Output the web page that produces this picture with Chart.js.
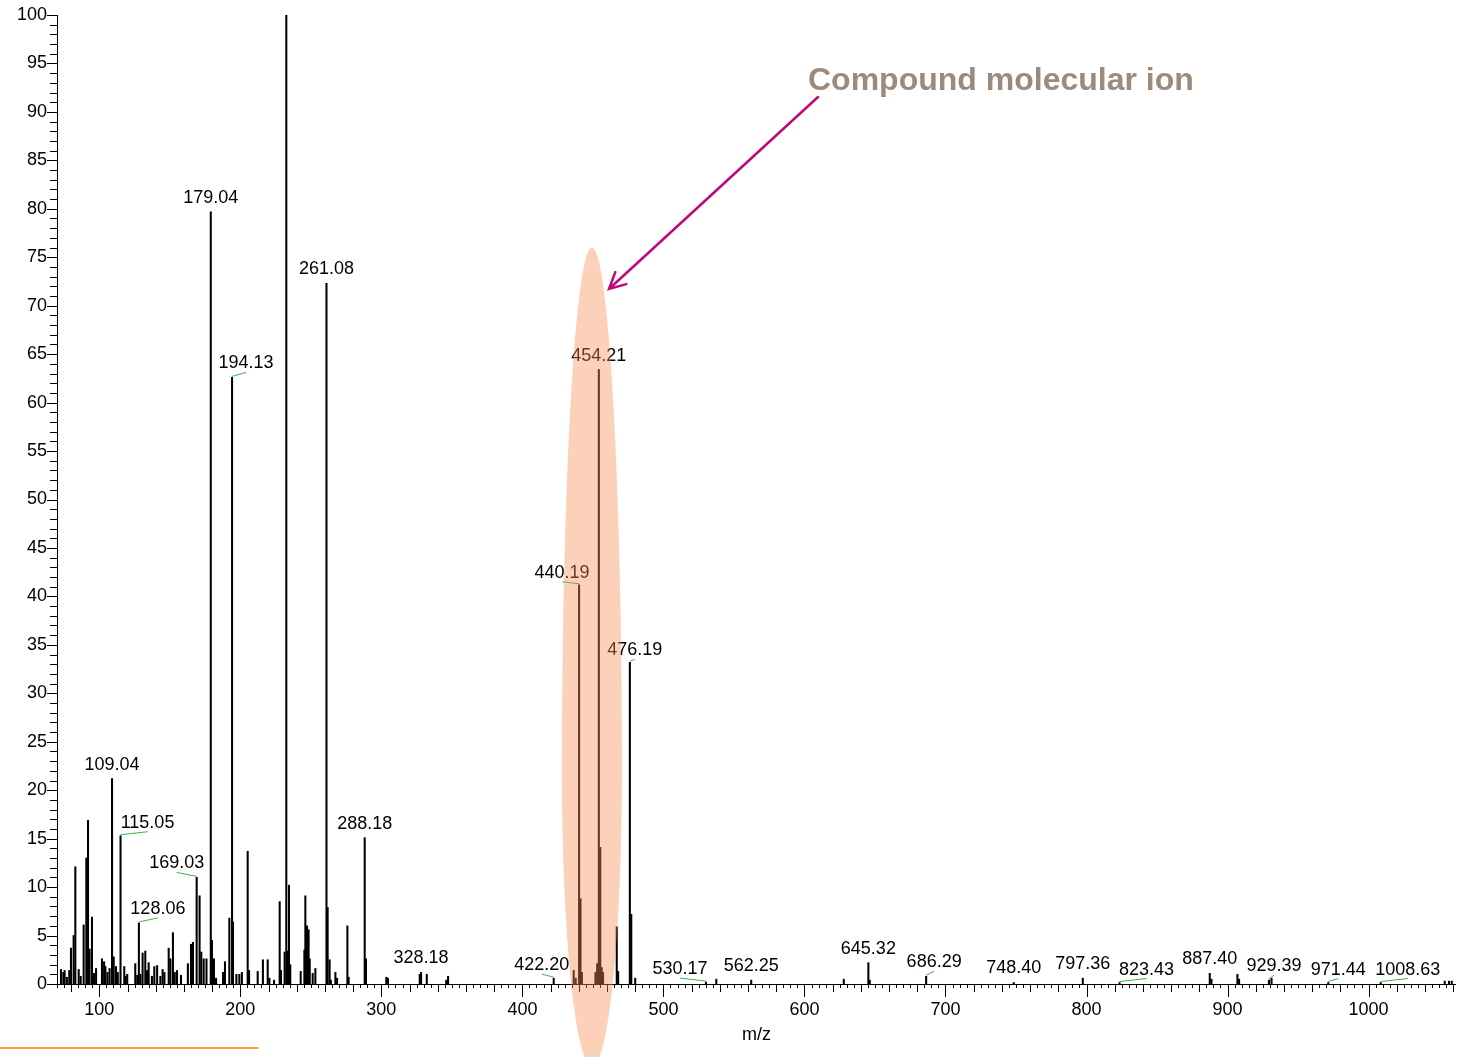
<!DOCTYPE html>
<html>
<head>
<meta charset="utf-8">
<title>m/z spectrum</title>
<script src="https://cdn.jsdelivr.net/npm/chart.js@4.4.1/dist/chart.umd.min.js"></script>
<style>
  html, body { margin: 0; padding: 0; background: #fff; }
  #wrap { width: 1457px; height: 1057px; }
</style>
</head>
<body>
<div id="wrap"><canvas id="spectrum" width="1457" height="1057"></canvas></div>
<script>
// labelled peaks (m/z, relative intensity %)
const labelMz = [109.04, 115.05, 128.06, 169.03, 179.04, 194.13, 261.08, 288.18, 328.18, 422.20, 440.19, 454.21,
                 476.19, 530.17, 562.25, 645.32, 686.29, 748.40, 797.36, 823.43, 887.40, 929.39, 971.44, 1008.63];
const labelInt = [21.2, 15.3, 6.3, 11.0, 79.7, 62.6, 72.3, 15.1, 1.2, 0.6, 41.2, 63.4,
                  33.2, 0.2, 0.4, 2.2, 0.8, 0.15, 0.6, 0.15, 1.1, 0.4, 0.15, 0.15];

// peaks without a label
const minorMz = [
  72.8, 74.5, 75.4, 77.0, 78.7, 79.9, 81.8, 83.0, 85.4, 86.8,
  88.9, 90.8, 92.0, 93.1, 94.8, 96.2, 97.7, 101.9, 103.4, 104.3,
  105.8, 107.3, 110.2, 111.8, 113.1, 117.7, 118.6, 119.8, 125.5, 126.9,
  129.2, 130.7, 132.6, 133.8, 135.0, 137.3, 139.0, 141.0, 143.3, 144.9,
  146.2, 149.2, 150.4, 152.2, 153.5, 155.1, 157.9, 162.8, 165.0, 166.4,
  171.1, 172.3, 174.0, 176.0, 179.9, 181.3, 182.8, 187.7, 189.1, 192.2,
  194.8, 197.2, 199.3, 201.1, 205.2, 206.2, 212.3, 216.0, 219.4, 220.6,
  223.9, 227.9, 228.8, 231.4, 232.6, 233.6, 234.5, 235.4, 242.8, 245.4,
  246.1, 247.3, 248.4, 249.2, 251.3, 253.2, 261.9, 263.3, 264.2, 267.4,
  268.6, 275.9, 276.8, 289.1, 303.5, 304.7, 327.2, 332.2, 346.0, 347.3,
  436.4, 437.8, 441.2, 442.2, 451.8, 453.0, 455.2, 456.2, 457.2, 466.9,
  467.9, 477.2, 480.0, 537.5, 627.9, 646.3, 888.6, 907.0, 908.2, 931.2,
  1054, 1057, 1059
];
const minorInt = [
  1.5, 1.2, 1.4, 0.7, 1.4, 3.7, 5.0, 12.1, 1.5, 0.8,
  6.1, 13.0, 16.9, 3.6, 6.9, 1.1, 1.6, 2.6, 2.3, 1.8,
  1.2, 1.6, 2.8, 1.8, 1.2, 1.8, 0.8, 1.0, 2.1, 0.9,
  1.0, 3.2, 3.4, 1.4, 2.2, 0.8, 1.8, 1.9, 0.8, 1.5,
  1.2, 3.7, 2.6, 5.3, 1.2, 1.4, 0.9, 2.1, 4.1, 4.3,
  9.1, 3.3, 2.6, 2.6, 4.5, 2.6, 0.6, 1.2, 2.3, 6.8,
  6.4, 1.0, 1.0, 1.2, 13.7, 1.4, 1.3, 2.5, 2.5, 0.6,
  0.4, 8.5, 1.4, 3.3, 100, 3.4, 10.2, 2.0, 1.3, 3.5,
  9.1, 6.0, 5.6, 2.6, 1.1, 1.6, 7.9, 2.5, 0.4, 1.2,
  0.6, 6.0, 0.7, 2.6, 0.7, 0.6, 1.0, 1.0, 0.4, 0.8,
  1.4, 0.6, 8.8, 1.2, 1.2, 2.1, 14.1, 1.7, 1.2, 5.9,
  1.3, 7.2, 0.6, 0.5, 0.5, 0.4, 0.5, 1.0, 0.5, 0.6,
  0.3, 0.3, 0.3
];

const xTicks = [100, 200, 300, 400, 500, 600, 700, 800, 900, 1000];

const FONT = '"Liberation Sans", Arial, sans-serif';

// where a label sits off its peak (pixels), leader line drawn for these
const labelShift = {
  '115.05': [27, 1], '128.06': [19, 0], '169.03': [-20, 0], '194.13': [14, 0],
  '422.20': [-12, 1], '440.19': [-17, 2], '476.19': [5, 2], '530.17': [-26, 1],
  '686.29': [8, 0], '748.40': [0, -1], '823.43': [27, 1], '929.39': [5, 0],
  '971.44': [10, 1], '1008.63': [27, 1]
};

// highlight around the molecular ion cluster (m/z, intensity units)
const HIGHLIGHT = { mz: 449.3, halfWidth: 21.3, top: 76, waist: 22, bottom: -8.5 };

const pts = (xs, ys) => xs.map((m, i) => ({ x: m, y: ys[i] }));

const overlay = {
  id: 'overlay',
  afterDraw(chart) {
    const ctx = chart.ctx;
    const xs = chart.scales.x, ys = chart.scales.y, a = chart.chartArea;
    ctx.save();

    // axis lines and tick marks
    ctx.strokeStyle = '#000';
    ctx.lineWidth = 1;
    ctx.beginPath();
    ctx.moveTo(a.left + 0.5, a.top);
    ctx.lineTo(a.left + 0.5, a.bottom + 0.5);
    ctx.lineTo(a.right, a.bottom + 0.5);
    for (let v = 0; v <= 100; v++) {
      const y = Math.round(ys.getPixelForValue(v)) + 0.5;
      const len = v % 5 === 0 ? 10 : 7;
      ctx.moveTo(a.left - len, y);
      ctx.lineTo(a.left, y);
    }
    for (let v = 70; v <= 1060; v += 5) {
      const x = Math.round(xs.getPixelForValue(v)) + 0.5;
      const len = v % 100 === 0 ? 13 : (v % 20 === 0 ? 8 : 4);
      ctx.moveTo(x, a.bottom);
      ctx.lineTo(x, a.bottom + len);
    }
    ctx.stroke();

    // peak labels
    ctx.font = '18px ' + FONT;
    ctx.textAlign = 'center';
    ctx.textBaseline = 'middle';
    labelMz.forEach((m, i) => {
      const txt = m.toFixed(2);
      const px = xs.getPixelForValue(m);
      const top = ys.getPixelForValue(labelInt[i]);
      const s = labelShift[txt] || [0, 0];
      const cx = px + s[0], cy = top - 14 + s[1];
      if (Math.abs(s[0]) > 3) {
        ctx.strokeStyle = '#3cb44b';
        ctx.beginPath();
        ctx.moveTo(px, top - 1);
        ctx.lineTo(cx, cy + 9);
        ctx.stroke();
      }
      ctx.fillStyle = '#000';
      ctx.fillText(txt, cx, cy);
    });

    // translucent highlight, drawn over peaks so they turn brown
    const hx = xs.getPixelForValue(HIGHLIGHT.mz);
    const rx = xs.getPixelForValue(HIGHLIGHT.mz + HIGHLIGHT.halfWidth) - hx;
    const yTop = ys.getPixelForValue(HIGHLIGHT.top);
    const yMid = ys.getPixelForValue(HIGHLIGHT.waist);
    const yBot = ys.getPixelForValue(HIGHLIGHT.bottom);
    ctx.fillStyle = 'rgba(248, 140, 80, 0.4)';
    ctx.beginPath();
    ctx.ellipse(hx, yMid, rx, yMid - yTop, 0, Math.PI, 2 * Math.PI);
    ctx.ellipse(hx, yMid, rx, yBot - yMid, 0, 0, Math.PI);
    ctx.fill();

    // annotation arrow
    const x0 = 818, y0 = 97, x1 = 609, y1 = 289;
    const ang = Math.atan2(y0 - y1, x0 - x1);
    ctx.strokeStyle = '#c0087a';
    ctx.lineWidth = 2.5;
    ctx.lineCap = 'round';
    ctx.beginPath();
    ctx.moveTo(x0, y0);
    ctx.lineTo(x1, y1);
    ctx.moveTo(x1 + 18 * Math.cos(ang - 0.47), y1 + 18 * Math.sin(ang - 0.47));
    ctx.lineTo(x1, y1);
    ctx.lineTo(x1 + 18 * Math.cos(ang + 0.47), y1 + 18 * Math.sin(ang + 0.47));
    ctx.stroke();

    ctx.font = 'bold 32px ' + FONT;
    ctx.textAlign = 'left';
    ctx.textBaseline = 'alphabetic';
    ctx.fillStyle = '#9c8b7d';
    ctx.fillText('Compound molecular ion', 808, 90);

    // thin orange rule bottom left
    ctx.strokeStyle = '#ff7a00';
    ctx.lineWidth = 1.5;
    ctx.beginPath();
    ctx.moveTo(0, 1048);
    ctx.lineTo(258, 1048);
    ctx.stroke();

    ctx.restore();
  }
};

const ctx = document.getElementById('spectrum').getContext('2d');
const chart = new Chart(ctx, {
  type: 'bar',
  data: {
    datasets: [
      { data: pts(minorMz, minorInt), backgroundColor: '#000', barThickness: 1.4, grouped: false },
      { data: pts(labelMz, labelInt), backgroundColor: '#000', barThickness: 1.4, grouped: false }
    ]
  },
  options: {
    responsive: false,
    animation: false,
    events: [],
    layout: { padding: { top: 15, right: 1, left: 0, bottom: 0 } },
    plugins: { legend: { display: false }, tooltip: { enabled: false } },
    scales: {
      x: {
        type: 'linear',
        min: 70,
        max: 1062,
        offset: false,
        grid: { display: false, drawTicks: false },
        border: { display: false },
        afterBuildTicks: s => { s.ticks = xTicks.map(v => ({ value: v })); },
        afterFit: s => { s.height = 73; s.paddingLeft = 0; s.paddingRight = 0; },
        ticks: { color: '#000', font: { family: FONT, size: 18 }, padding: 15, maxRotation: 0, autoSkip: false,
                 callback: v => String(v) },
        title: { display: true, text: 'm/z', color: '#000', font: { family: FONT, size: 18 }, padding: { top: 0, bottom: 11 } }
      },
      y: {
        min: 0,
        max: 100,
        grid: { display: false, drawTicks: false },
        border: { display: false },
        afterFit: s => { s.width = 57; s.paddingTop = 0; s.paddingBottom = 0; },
        ticks: { stepSize: 5, color: '#000', font: { family: FONT, size: 18 }, padding: 10 }
      }
    }
  },
  plugins: [overlay]
});
</script>
</body>
</html>
